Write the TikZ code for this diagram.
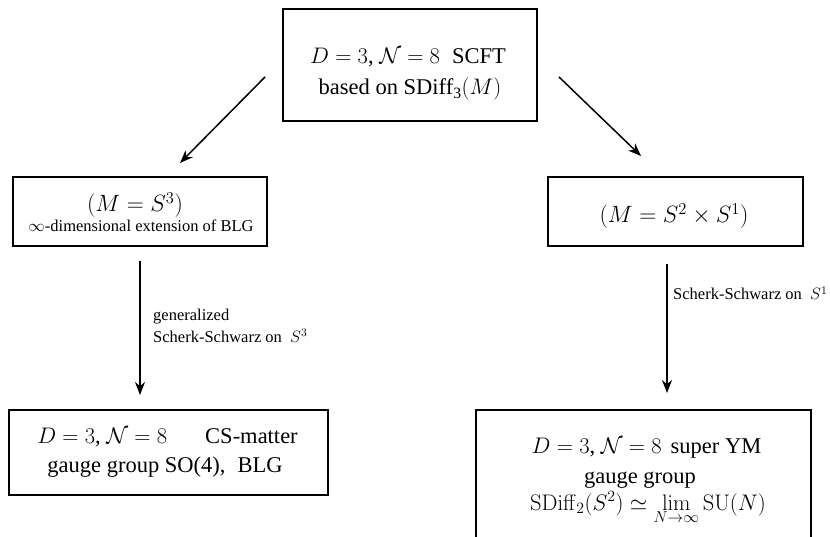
\RequirePackage{fix-cm}
\documentclass[tikz,border=0pt]{standalone}
\usepackage[no-math]{fontspec}
\setmainfont{Liberation Serif}
\usetikzlibrary{arrows.meta}
\newcommand\mainsz{\fontsize{22.5}{27}\selectfont}
\newcommand\eqsz{\fontsize{23.6}{28}\selectfont}
\newcommand\labsz{\fontsize{16.5}{20}\selectfont}
\begin{document}
\begin{tikzpicture}[x=1pt,y=-1pt,
 box/.style={draw, line width=1.6pt, inner sep=0pt, outer sep=0pt},
 txt/.style={anchor=base, inner sep=0pt, font=\mainsz\rmfamily},
 eqtxt/.style={anchor=base, inner sep=0pt, font=\eqsz\rmfamily},
 stxt/.style={anchor=base, inner sep=0pt, font=\labsz\rmfamily},
 lab/.style={anchor=base west, inner sep=0pt, font=\labsz\rmfamily},
 arr/.style={line width=1.5pt, -{Stealth[length=13pt,width=10pt]}}]
\useasboundingbox (0,0) rectangle (830,537);
\clip (0,0) rectangle (830,537);
% boxes
\node[box, minimum width=254pt, minimum height=112pt] (top) at (410,65) {};
\node[box, minimum width=254pt, minimum height=69pt] (ml) at (140,211.5) {};
\node[box, minimum width=255pt, minimum height=69pt] (mr) at (675.5,211.5) {};
\node[box, minimum width=319pt, minimum height=85pt] (bl) at (168.5,452.5) {};
\node[box, minimum width=335pt, minimum height=150pt] (br) at (643.5,485) {};
% texts
\node[txt] (top1) at (408,64) {$D=3$, $\mathcal{N}=8$\hspace{12pt}SCFT};
\node[txt] (top2) at (410,95) {based on SDiff\textsubscript{3}$(M)$};
\node[eqtxt] (ml1) at (135,212) {$(M=S^3)$};
\node[stxt] (ml2) at (141,232) {$\infty$-dimensional extension of BLG};
\node[eqtxt] (mr1) at (674,223) {$(M=S^2\times S^1)$};
\node[txt] (bl1) at (167.5,443) {$D=3$, $\mathcal{N}=8$\hspace{38pt}CS-matter};
\node[txt] (bl2) at (165,472) {gauge group SO(4),\hspace{12pt}BLG};
\node[txt] (br1) at (646.5,453) {$D=3$, $\mathcal{N}=8$\hspace{9pt}super YM};
\node[txt] (br2) at (640,483) {gauge group};
\node[txt] (br3) at (648,510) {$\mathrm{SDiff}_2(S^2)\simeq\lim\limits_{N\to\infty}\mathrm{SU}(N)$};
% arrow end points
\coordinate (a1s) at (265,77); \coordinate (a1e) at (180,163);
\coordinate (a2s) at (559,77); \coordinate (a2e) at (641,156);
\coordinate (a3s) at (140,261); \coordinate (a3e) at (140,395);
\coordinate (a4s) at (667,264); \coordinate (a4e) at (667,393);
\draw[arr] (a1s) -- (a1e);
\draw[arr] (a2s) -- (a2e);
\draw[arr] (a3s) -- (a3e);
\draw[arr] (a4s) -- (a4e);
% labels
\node[lab] (l1a) at (153,320) {generalized};
\node[lab] (l1b) at (153,342) {Scherk-Schwarz on\ \ $S^3$};
\node[lab] (l2) at (673,300) {Scherk-Schwarz on\ \ $S^1$};
\end{tikzpicture}
\end{document}
